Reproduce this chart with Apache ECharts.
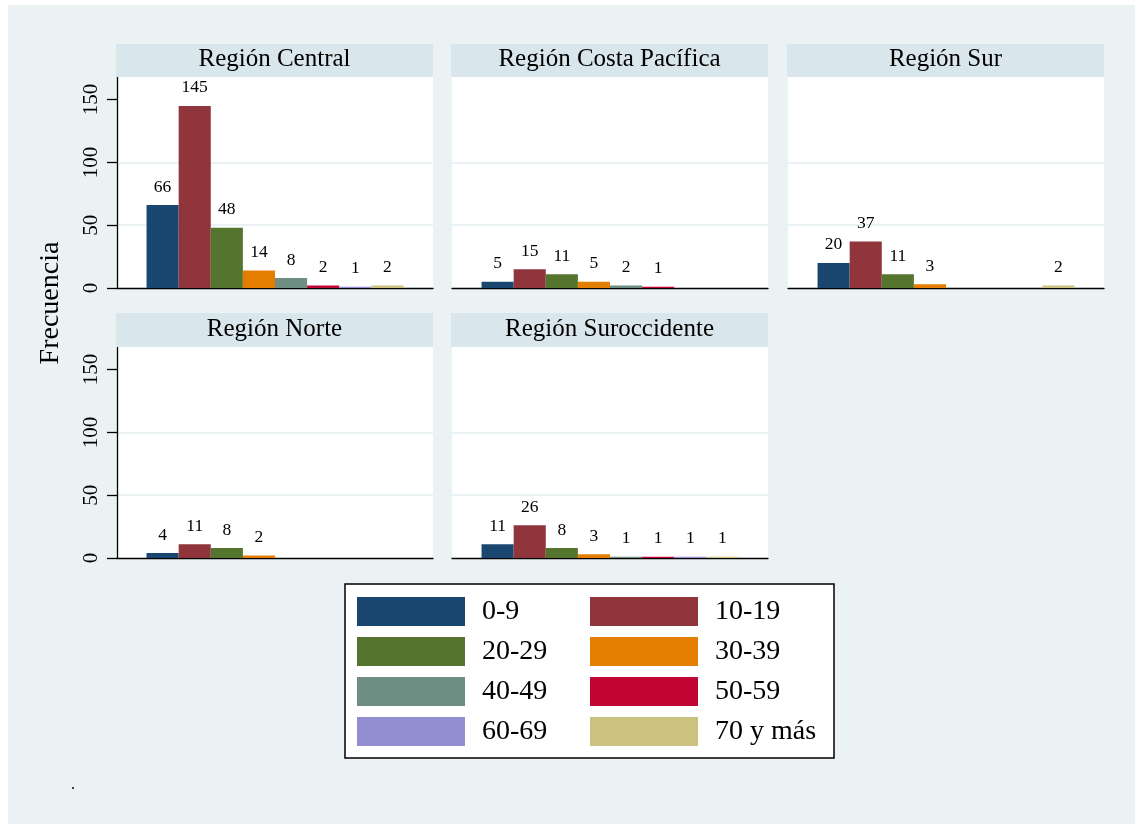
<!DOCTYPE html>
<html>
<head>
<meta charset="utf-8">
<script src="https://cdn.jsdelivr.net/npm/echarts@6/dist/echarts.min.js"></script>
<style>
html,body{margin:0;padding:0;background:#fff;}
#chart{width:1135px;height:824px;}
</style>
</head>
<body>
<div id="chart"></div>
<script>
// ---- data ----
const categories = ['0-9', '10-19', '20-29', '30-39', '40-49', '50-59', '60-69', '70 y más'];
const regions = ['Región Central', 'Región Costa Pacífica', 'Región Sur', 'Región Norte', 'Región Suroccidente'];
const central = [66, 145, 48, 14, 8, 2, 1, 2];
const costaPacifica = [5, 15, 11, 5, 2, 1, null, null];
const sur = [20, 37, 11, 3, null, null, null, 2];
const norte = [4, 11, 8, 2, null, null, null, null];
const suroccidente = [11, 26, 8, 3, 1, 1, 1, 1];
const yTicks = [0, 50, 100, 150];
const yTitle = 'Frecuencia';
const noteText = '.';

const regionValues = [central, costaPacifica, sur, norte, suroccidente];
const colors = ['#1a476f', '#90353b', '#55752f', '#e37e00', '#6e8e84', '#c10534', '#938dd2', '#cac27e'];
const FONT = '"Liberation Serif", "Times New Roman", serif';

// panel layout
const colX = [117, 452, 788];
const rowY = [77, 347];
const stripTop = [44, 313];
const PW = 316, PH = 211;
const panelPos = [[0, 0], [1, 0], [2, 0], [0, 1], [1, 1]];

const grids = [], xAxes = [], yAxes = [], series = [], graphics = [];

graphics.push({type: 'rect', z: -100, shape: {x: 8, y: 5, width: 1135, height: 824}, style: {fill: '#eaf2f3'}});

panelPos.forEach(([c, r], p) => {
  const showY = c === 0;
  grids.push({left: colX[c], top: rowY[r], width: PW, height: PH, show: true, backgroundColor: '#ffffff', borderWidth: 0});
  xAxes.push({
    gridIndex: p, type: 'category', data: [''],
    axisLine: {show: true, lineStyle: {color: '#000', width: 1.3}},
    axisTick: {show: false}, axisLabel: {show: false}, splitLine: {show: false}
  });
  yAxes.push({
    gridIndex: p, type: 'value', min: 0, max: 168, interval: 50,
    axisLine: {show: showY, lineStyle: {color: '#000', width: 1.3}},
    axisTick: {show: showY, length: 10, lineStyle: {color: '#000', width: 1.3}, customValues: yTicks},
    axisLabel: {show: showY, rotate: 90, fontSize: 21, color: '#000', fontFamily: FONT, margin: 15, customValues: yTicks},
    splitLine: {show: true, showMinLine: false, showMaxLine: false, lineStyle: {color: '#eaf2f3', width: 2}}
  });
  const sx = colX[c] - 1, sy = stripTop[r];
  graphics.push({type: 'rect', z: 1, shape: {x: sx, y: sy, width: PW + 1, height: rowY[r] - sy}, style: {fill: '#d9e6eb'}});
  graphics.push({type: 'text', z: 2, x: sx + (PW + 1) / 2, y: sy + (rowY[r] - sy) / 2 - 1,
    style: {text: regions[p], fontSize: 25, fontFamily: FONT, fill: '#000', textAlign: 'center', textVerticalAlign: 'middle'}});
  categories.forEach((cat, k) => {
    const v = regionValues[p][k];
    series.push({
      type: 'bar', name: cat, xAxisIndex: p, yAxisIndex: p,
      data: [v === null ? '-' : v],
      barGap: '0%', barCategoryGap: '18.7%',
      itemStyle: {color: colors[k]},
      label: {show: true, position: 'top', distance: 9, fontSize: 17.5, color: '#000', fontFamily: FONT},
      emphasis: {disabled: true}
    });
  });
});

// y axis title
graphics.push({type: 'text', z: 2, x: 51, y: 303, rotation: Math.PI / 2,
  style: {text: yTitle, fontSize: 28, fontFamily: FONT, fill: '#000', textAlign: 'center', textVerticalAlign: 'middle'}});
// legend box
graphics.push({type: 'rect', z: 1, shape: {x: 345, y: 584, width: 489, height: 174}, style: {fill: '#fff', stroke: '#000', lineWidth: 1.5}});
// note
graphics.push({type: 'text', z: 2, x: 71, y: 777, style: {text: noteText, fontSize: 16, fontFamily: FONT, fill: '#000'}});

const legendCommon = {
  orient: 'vertical', icon: 'rect', itemWidth: 108, itemHeight: 29, itemGap: 11, padding: 0, z: 5,
  textStyle: {fontSize: 28, fontFamily: FONT, color: '#000', padding: [0, 0, 0, 12]},
  selectedMode: false
};

const option = {
  animation: false,
  backgroundColor: '#ffffff',
  grid: grids, xAxis: xAxes, yAxis: yAxes, series: series,
  legend: [
    Object.assign({left: 357, top: 597, data: [categories[0], categories[2], categories[4], categories[6]]}, legendCommon),
    Object.assign({left: 590, top: 597, data: [categories[1], categories[3], categories[5], categories[7]]}, legendCommon)
  ],
  graphic: {elements: graphics}
};

const chart = echarts.init(document.getElementById('chart'), null, {renderer: 'canvas'});
chart.setOption(option);
</script>
</body>
</html>
